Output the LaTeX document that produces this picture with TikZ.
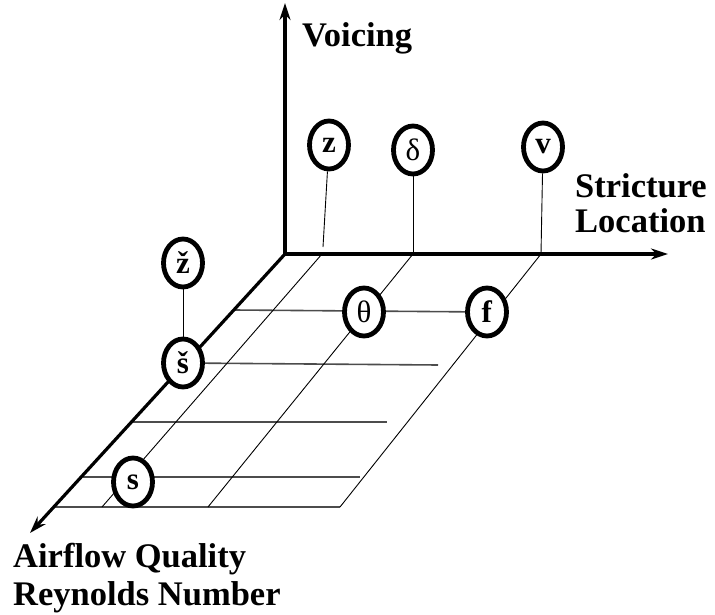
\documentclass[tikz,border=0pt]{standalone}
\usepackage{fontspec}
\setmainfont{Liberation Serif}
\usetikzlibrary{shapes.geometric,arrows.meta,backgrounds}
\begin{document}
\begin{tikzpicture}[x=1pt,y=-1pt,
  phon/.style={draw,ellipse,fill=white,line width=4.8pt,minimum width=39pt,minimum height=48pt,inner sep=0pt,font=\fontsize{31}{33}\selectfont},
  axis/.style={line width=3.2pt,-{Stealth[length=17pt,width=11pt]}},
  row/.style={line width=1.6pt,draw=black!70},
  diag/.style={line width=0.9pt},
  stem/.style={line width=0.9pt},
  lab/.style={anchor=base west,inner sep=0pt,font=\fontsize{34.5}{40}\selectfont\bfseries}]
\useasboundingbox (0,0) rectangle (715,615);
% axes
\coordinate (O) at (285,254);
\coordinate (Vtip) at (285,3);
\coordinate (Htip) at (668,254);
\coordinate (Dtip) at (30,533);
% phoneme nodes
\node[phon] (z) at (329,145) {\textbf{z}};
\node[phon] (dh) at (413,150) {δ};
\node[phon] (v) at (543,147) {\textbf{v}};
\node[phon] (zh) at (183,263) {\textbf{ž}};
\node[phon] (sh) at (183,363) {\textbf{š}};
\node[phon] (th) at (364,312) {θ};
\node[phon] (f) at (487,312) {\textbf{f}};
\node[phon] (s) at (133,482) {\textbf{s}};
% grid coordinates
\coordinate (r1a) at (234,310);
\coordinate (r2b) at (438,365);
\coordinate (r3a) at (133,422); \coordinate (r3b) at (387,422);
\coordinate (r4a) at (83,477);  \coordinate (r4b) at (360,477);
\coordinate (r5a) at (55,507);  \coordinate (r5b) at (340,507);
\coordinate (d1a) at (322,254); \coordinate (d1b) at (102,507);
\coordinate (d2a) at (413,254); \coordinate (d2b) at (208,507);
\coordinate (d3a) at (541,254); \coordinate (d3b) at (340,507);
\coordinate (zfoot) at (323,247);
\begin{scope}[on background layer]
  \draw[row] (r1a) -- (f);
  \draw[row] (sh) -- (r2b);
  \draw[row] (r3a) -- (r3b);
  \draw[row] (r4a) -- (r4b);
  \draw[row] (r5a) -- (r5b);
  \draw[diag] (d1a) -- (d1b);
  \draw[diag] (d2a) -- (d2b);
  \draw[diag] (d3a) -- (d3b);
  \draw[stem] (z) -- (zfoot);
  \draw[stem] (dh) -- (d2a);
  \draw[stem] (v) -- (d3a);
  \draw[stem] (zh) -- (sh);
  \draw[axis] (O) -- (Vtip);
  \draw[axis] (O) -- (Htip);
  \draw[axis] (O) -- (Dtip);
\end{scope}
% labels
\node[lab] (lv) at (302,47) {Voicing};
\node[lab] (ls1) at (575,197) {Stricture};
\node[lab] (ls2) at (575,232) {Location};
\node[lab] (la1) at (13,567) {Airflow Quality};
\node[lab] (la2) at (13,605) {Reynolds Number};
\end{tikzpicture}
\end{document}
